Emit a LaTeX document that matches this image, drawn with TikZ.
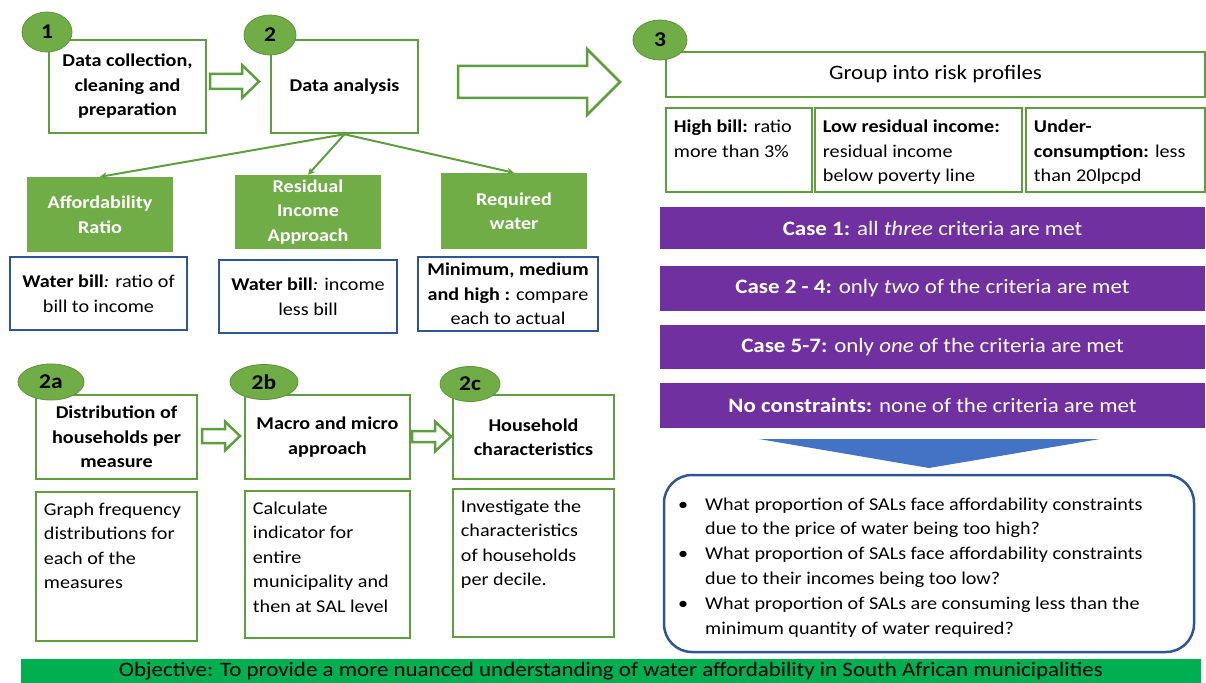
\documentclass[tikz,border=0pt]{standalone}
\usepackage{fontspec}
\setmainfont{Carlito}[FakeStretch=1.12]
\usetikzlibrary{arrows.meta,positioning,shapes.geometric}

\definecolor{ogreen}{HTML}{70AD47}
\definecolor{lgreen}{HTML}{5E9E3E}
\definecolor{opurple}{HTML}{7030A0}
\definecolor{oblue}{HTML}{2F5597}
\definecolor{lblue}{HTML}{4472C4}
\definecolor{objgreen}{HTML}{00B050}

\newcommand\boxfont{\fontsize{18}{24.5}\selectfont}
\newcommand\casefont{\fontsize{20.5}{25}\selectfont}
\newcommand\groupfont{\fontsize{20.5}{24}\selectfont}
\newcommand\badgefont{\fontsize{21}{24}\selectfont}
\newcommand\qfont{\fontsize{18}{24.8}\selectfont}
\newcommand\objfont{\fontsize{20.5}{24}\selectfont}

% hollow block arrow: x start, x head, x tip, y centre, shaft half, head half
\newcommand{\hollowarrow}[6]{%
  \draw[harrow] (#1,#4-#5) -- (#2,#4-#5) -- (#2,#4-#6) -- (#3,#4)
    -- (#2,#4+#6) -- (#2,#4+#5) -- (#1,#4+#5) -- cycle;}

\begin{document}
\begin{tikzpicture}[x=1pt,y=-1pt,
    stepbox/.style={draw=lgreen, line width=2.5pt, fill=white, align=center, font=\boxfont\bfseries, inner sep=2pt},
    measure/.style={fill=ogreen, text=white, align=center, font=\boxfont\bfseries, inner sep=2pt},
    billbox/.style={draw=oblue, line width=2.5pt, fill=white, align=center, font=\boxfont, inner sep=2pt},
    critbox/.style={draw=lgreen, line width=2.5pt, fill=white, inner sep=0pt},
    casebar/.style={fill=opurple, text=white, font=\casefont, inner sep=0pt, minimum width=545pt},
    badge/.style={ellipse, fill=ogreen, draw=ogreen!85!black, line width=0.8pt, font=\badgefont\bfseries, inner sep=0pt},
    plain/.style={align=left, inner sep=0pt, anchor=north west, font=\boxfont},
    harrow/.style={draw=lgreen, line width=2.5pt, fill=white, line join=miter},
    conn/.style={draw=lgreen, line width=2pt, -{Stealth[length=7pt,width=7pt]}}]
  \useasboundingbox (0,0) rectangle (1206,682);

  % step 1 and 2
  \node[stepbox, minimum width=157pt, minimum height=93pt] (collect) at (127.5,86.5) {Data collection,\\cleaning and\\preparation};
  \node[stepbox, minimum width=147pt, minimum height=93pt] (analysis) at (344.5,86.5) {Data analysis};
  \hollowarrow{210}{242}{259}{81.5}{7.5}{16.5}
  \hollowarrow{458}{587}{620}{82}{16}{33}

  \node[measure, minimum width=146pt, minimum height=75pt] (ratio) at (100,214.5) {Affordability\\Ratio};
  \node[measure, minimum width=146pt, minimum height=74pt] (resid) at (308,212) {Residual\\Income\\Approach};
  \node[measure, minimum width=146pt, minimum height=76pt] (reqw) at (514,211) {Required\\water};
  \draw[conn] (analysis.south) -- (ratio.north);
  \draw[conn] (analysis.south) -- (resid.north);
  \draw[conn] (analysis.south) -- (reqw.north);

  \node[billbox, minimum width=177pt, minimum height=73pt] (billA) at (98.5,293.5) {\textbf{Water bill}\textit{:} ratio of\\bill to income};
  \node[billbox, minimum width=178pt, minimum height=73pt] (billB) at (308,296.5) {\textbf{Water bill}\textit{:} income\\less bill};
  \node[billbox, minimum width=180pt, minimum height=74pt] (billC) at (508,294) {\textbf{Minimum, medium}\\\textbf{and high :} compare\\each to actual};

  \node[badge, minimum width=50pt, minimum height=40pt] (one) at (47,32) {1};
  \node[badge, minimum width=52pt, minimum height=40pt] (two) at (270,35) {2};

  % step 2a - 2c
  \node[stepbox, minimum width=161pt, minimum height=84pt] (distr) at (116.5,437) {Distribution of\\households per\\measure};
  \node[stepbox, minimum width=165pt, minimum height=84pt] (macro) at (327.5,437) {Macro and micro\\approach};
  \node[stepbox, minimum width=161pt, minimum height=84pt] (hhchar) at (533.5,437) {Household\\characteristics};
  \hollowarrow{202}{225}{240}{436}{7}{14.5}
  \hollowarrow{412}{435}{451}{436.5}{5.5}{15}

  \node[critbox, minimum width=161pt, minimum height=149pt] (graphA) at (116.5,566.5) {};
  \node[critbox, minimum width=165pt, minimum height=147pt] (calcB) at (327.5,564.5) {};
  \node[critbox, minimum width=161pt, minimum height=148pt] (invC) at (533.5,563) {};
  \node[plain] at ([xshift=9pt,yshift=-12pt]graphA.north west) {Graph frequency\\distributions for\\each of the\\measures};
  \node[plain] at ([xshift=9pt,yshift=-12pt]calcB.north west) {Calculate\\indicator for\\entire\\municipality and\\then at SAL level};
  \node[plain] at ([xshift=9pt,yshift=-12pt]invC.north west) {Investigate the\\characteristics\\of households\\per decile.};

  \node[badge, minimum width=66pt, minimum height=36pt] (twoa) at (51,382) {2a};
  \node[badge, minimum width=68pt, minimum height=35pt] (twob) at (264,382) {2b};
  \node[badge, minimum width=60pt, minimum height=35pt] (twoc) at (470,384) {2c};

  % step 3
  \node[critbox, minimum width=539pt, minimum height=45pt, font=\groupfont] (group) at (935.5,74.5) {Group into risk profiles};
  \node[critbox, minimum width=146pt, minimum height=84pt] (hibill) at (739,150) {};
  \node[critbox, minimum width=207pt, minimum height=84pt] (lowres) at (918.5,150) {};
  \node[critbox, minimum width=179pt, minimum height=84pt] (under) at (1115.5,150) {};
  \node[plain] at ([xshift=9pt,yshift=-13pt]hibill.north west) {\textbf{High bill:} ratio\\more than 3\%};
  \node[plain] at ([xshift=9pt,yshift=-13pt]lowres.north west) {\textbf{Low residual income:}\\residual income\\below poverty line};
  \node[plain] at ([xshift=9pt,yshift=-13pt]under.north west) {\textbf{Under-}\\\textbf{consumption:} less\\than 20lpcpd};
  \node[badge, minimum width=54pt, minimum height=40pt] (three) at (660,40) {3};

  \node[casebar, minimum height=42pt] (case1) at (932.5,228) {\textbf{Case 1:} all \textit{three} criteria are met};
  \node[casebar, minimum height=45pt] (case2) at (932.5,288.5) {\textbf{Case 2 - 4:} only \textit{two} of the criteria are met};
  \node[casebar, minimum height=44pt] (case3) at (932.5,347) {\textbf{Case 5-7:} only \textit{one} of the criteria are met};
  \node[casebar, minimum height=45pt] (case4) at (932.5,405.5) {\textbf{No constraints:} none of the criteria are met};

  \coordinate (tl) at (759,439);
  \coordinate (tr) at (1100,439);
  \coordinate (tip) at (929,468);
  \fill[lblue] (tl) -- (tr) -- (tip) -- cycle;

  \node[draw=oblue, line width=2.5pt, rounded corners=28pt, minimum width=530pt, minimum height=177pt] (quest) at (929,563.5) {};
  \node[plain, font=\qfont] at (678,492.5) {%
    \begin{tabular}{@{}p{27pt}@{}l@{}}
      \textbullet & What proportion of SALs face affordability constraints\\
                  & due to the price of water being too high?\\
      \textbullet & What proportion of SALs face affordability constraints\\
                  & due to their incomes being too low?\\
      \textbullet & What proportion of SALs are consuming less than the\\
                  & minimum quantity of water required?
    \end{tabular}};

  % objective
  \node[fill=objgreen, minimum width=1180pt, minimum height=24pt, inner sep=0pt] (objective) at (611,671) {};
  \node[anchor=base, font=\objfont, inner sep=0pt] at (611,676.5) {Objective: To provide a more nuanced understanding of water affordability in South African municipalities};
\end{tikzpicture}
\end{document}
